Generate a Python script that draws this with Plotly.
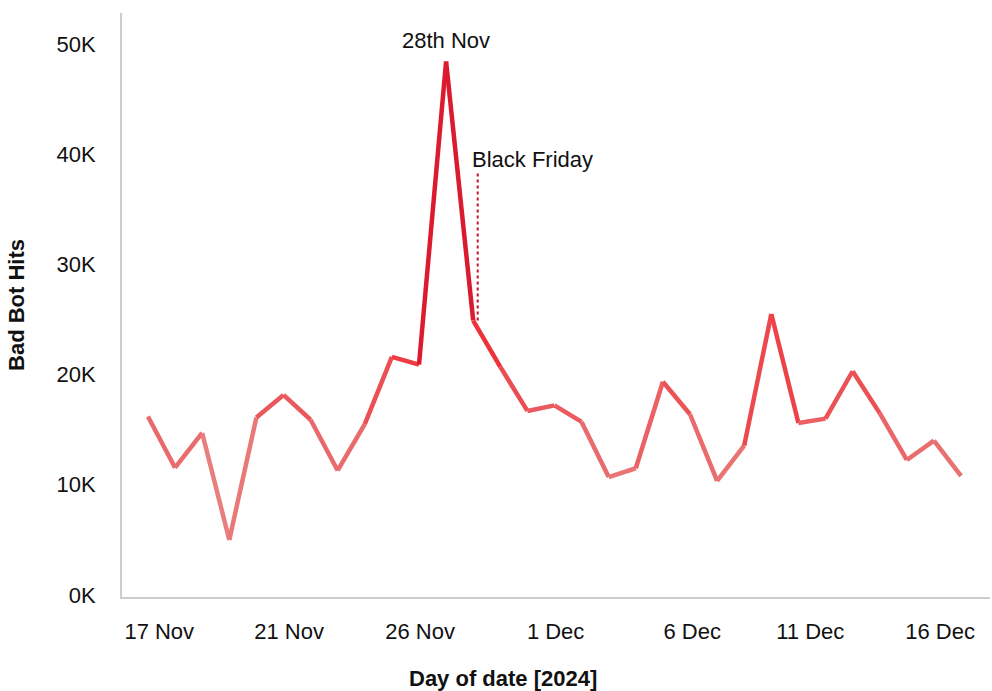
import pandas as pd
import plotly.graph_objects as go

# Daily bad bot hits, 17 Nov - 17 Dec 2024
dates = pd.date_range("2024-11-17", "2024-12-17", freq="D")
hits = [16200, 11550, 14700, 5000, 16100, 18150, 15900, 11300, 15500, 21600,
        20900, 48400, 24900, 20700, 16700, 17200, 15700, 10700, 11500, 19350,
        16400, 10350, 13550, 25500, 15600, 16000, 20300, 16500, 12250, 14000,
        10800]

tick_labels = ["17 Nov", "21 Nov", "26 Nov", "1 Dec", "6 Dec", "11 Dec", "16 Dec"]
tick_dates = ["2024-11-17 10:00", "2024-11-22 05:00", "2024-11-27 01:00",
              "2024-12-02 01:00", "2024-12-07 02:00", "2024-12-11 10:30",
              "2024-12-16 05:30"]

peak_label = "28th Nov"
event_label = "Black Friday"
event_date = pd.Timestamp("2024-11-29")

# value -> colour ramp (pale pink for low counts, crimson for high)
ramp = [(5000, (232, 158, 158)), (11000, (233, 118, 118)), (16000, (234, 95, 98)),
        (20000, (236, 70, 75)), (25000, (238, 35, 45)), (48000, (196, 18, 48))]


def ramp_color(v):
    if v <= ramp[0][0]:
        c = ramp[0][1]
    elif v >= ramp[-1][0]:
        c = ramp[-1][1]
    else:
        for (v0, c0), (v1, c1) in zip(ramp, ramp[1:]):
            if v0 <= v <= v1:
                t = (v - v0) / (v1 - v0)
                c = tuple(round(a + (b - a) * t) for a, b in zip(c0, c1))
                break
    return "rgb(%d,%d,%d)" % c


FONT = "Liberation Sans, Arial, Helvetica, sans-serif"
FS = 22

fig = go.Figure()
for i in range(len(hits) - 1):
    fig.add_trace(go.Scatter(
        x=dates[i:i + 2], y=hits[i:i + 2], mode="lines",
        line=dict(color=ramp_color((hits[i] + hits[i + 1]) / 2), width=4.5),
        showlegend=False, hoverinfo="skip"))

peak_i = hits.index(max(hits))
ev_i = list(dates).index(event_date)

# dotted marker line for Black Friday
fig.add_shape(type="line", xref="x", yref="y",
              x0=event_date + pd.Timedelta(hours=4), x1=event_date + pd.Timedelta(hours=4),
              y0=hits[ev_i], y1=38400,
              line=dict(color="#c8102e", width=2, dash="dot"))

fig.add_annotation(x=dates[peak_i], y=hits[peak_i], text=peak_label,
                   showarrow=False, yshift=7, yanchor="bottom",
                   font=dict(family=FONT, size=FS, color="#111"))
fig.add_annotation(x=event_date, y=39500, text=event_label, showarrow=False,
                   xanchor="left", xshift=-3,
                   font=dict(family=FONT, size=FS, color="#111"))

# x-axis title placed as free text under the axis
fig.add_annotation(x=0.439, y=0, xref="paper", yref="paper", yshift=-81,
                   text="<b>Day of date [2024]</b>", showarrow=False,
                   xanchor="center", yanchor="middle",
                   font=dict(family=FONT, size=FS, color="#111"))

fig.update_layout(
    width=992, height=691,
    margin=dict(l=122, r=2, t=13, b=94),
    paper_bgcolor="white", plot_bgcolor="white",
    font=dict(family=FONT, size=FS, color="#111"),
    xaxis=dict(
        type="date",
        range=["2024-11-16 01:00", "2024-12-18 01:40"],
        tickvals=tick_dates, ticktext=tick_labels,
        showgrid=False, zeroline=False,
        showline=True, linecolor="#cccccc", linewidth=2,
        ticks="", ticklabelstandoff=14,
        tickfont=dict(family=FONT, size=FS, color="#111"),
    ),
    yaxis=dict(
        range=[-180, 52800],
        tickvals=[0, 10000, 20000, 30000, 40000, 50000],
        ticktext=["0K", "10K", "20K", "30K", "40K", "50K"],
        showgrid=False, zeroline=False,
        showline=True, linecolor="#cccccc", linewidth=2,
        ticks="", ticklabelstandoff=20,
        tickfont=dict(family=FONT, size=FS, color="#111"),
        title=dict(text="<b>Bad Bot Hits</b>", standoff=26,
                   font=dict(family=FONT, size=FS, color="#111")),
    ),
)

fig.write_html("out.html")
